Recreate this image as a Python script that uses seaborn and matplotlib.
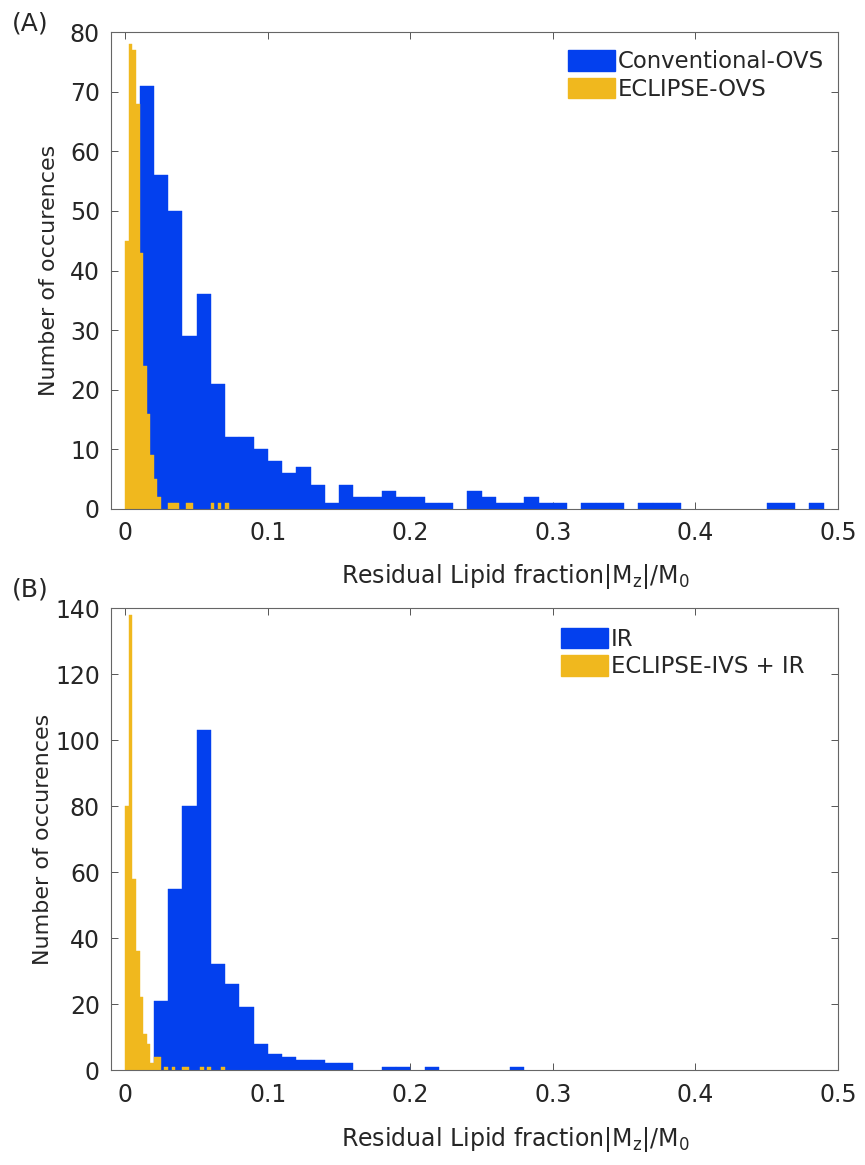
import numpy as np
import matplotlib
matplotlib.use('Agg')
import matplotlib.pyplot as plt
import seaborn as sns
from matplotlib.patches import Patch

# bin widths
wide_bin = 0.01
narrow_bin = 0.0025

# (A) counts per bin, starting at 0
conv_ovs = [0, 71, 56, 50, 29, 36, 21, 12, 12, 10,
            8, 6, 7, 4, 1, 4, 2, 2, 3, 2,
            2, 1, 1, 0, 3, 2, 1, 1, 2, 1,
            1, 0, 1, 1, 1, 0, 1, 1, 1, 0,
            0, 0, 0, 0, 0, 1, 1, 0, 1, 0]
eclipse_ovs = [45, 78, 77, 68, 43, 24, 16, 9, 5, 2,
               0, 0, 1, 1, 1, 0, 0, 1, 1, 0,
               0, 0, 0, 0, 1, 0, 1, 0, 1, 0]

# (B) counts per bin, starting at 0
ir = [0, 0, 21, 55, 80, 103, 32, 26, 19, 8,
      5, 4, 3, 3, 2, 2, 0, 0, 1, 1,
      0, 1, 0, 0, 0, 0, 0, 1, 0, 0]
eclipse_ivs_ir = [80, 138, 58, 36, 22, 11, 8, 2, 4, 4,
                  0, 1, 0, 1, 0, 0, 1, 1, 0, 0,
                  0, 1, 0, 1, 0, 0, 0, 1, 0, 0]

x_ticks = [0, 0.1, 0.2, 0.3, 0.4, 0.5]
x_ticklabels = ['0', '0.1', '0.2', '0.3', '0.4', '0.5']

BLUE = '#0340EE'
YELLOW = '#F0B81E'

sns.set_style('ticks')
plt.rcParams['font.family'] = ['DejaVu Sans']

fig = plt.figure(figsize=(8.65, 11.65), dpi=100)
ax1 = fig.add_axes([111 / 865, 1 - 509 / 1165, 727 / 865, 477 / 1165])
ax2 = fig.add_axes([111 / 865, 1 - 1070 / 1165, 727 / 865, 462 / 1165])


def draw_hist(ax, counts, width, color):
    edges = np.arange(len(counts) + 1) * width
    centers = edges[:-1] + width / 2
    w = np.asarray(counts, dtype=float)
    keep = w > 0
    # thin edge in the face colour hides the seams between bins
    sns.histplot(x=centers[keep], weights=w[keep],
                 bins=edges.tolist(), color=color, alpha=1,
                 edgecolor=color, linewidth=0.3, ax=ax)
    # empty bins should not leave a line on the baseline
    for p in ax.patches:
        if p.get_height() == 0:
            p.set_linewidth(0)


xlabel = 'Residual Lipid fraction|M$\\mathregular{_z}$|/M$\\mathregular{_0}$'

panels = [
    (ax1, conv_ovs, eclipse_ovs, 'Conventional-OVS', 'ECLIPSE-OVS', 80, 10, (0.6286, 0.962)),
    (ax2, ir, eclipse_ivs_ir, 'IR', 'ECLIPSE-IVS + IR', 140, 20, (0.619, 0.957)),
]

for ax, blue, yellow, lab_b, lab_y, ymax, ystep, anchor in panels:
    draw_hist(ax, blue, wide_bin, BLUE)
    draw_hist(ax, yellow, narrow_bin, YELLOW)

    ax.set_xlim(-0.01, 0.5)
    ax.set_ylim(0, ymax)
    ax.set_xticks(x_ticks)
    ax.set_xticklabels(x_ticklabels)
    ax.set_yticks(np.arange(0, ymax + 1, ystep))
    ax.tick_params(direction='in', top=True, right=True, length=5, width=0.7,
                   color='#555555', labelcolor='#262626', labelsize=17)
    ax.tick_params(axis='x', pad=9)
    ax.tick_params(axis='y', pad=8)
    for s in ax.spines.values():
        s.set_visible(True)
        s.set_color('#666666')
        s.set_linewidth(0.8)
        s.set_zorder(5)

    ax.set_xlabel(xlabel, fontsize=17, color='#262626')
    ax.set_ylabel('Number of occurences', fontsize=16, color='#262626')

    ax.legend(handles=[Patch(color=BLUE, label=lab_b), Patch(color=YELLOW, label=lab_y)],
              loc='upper left', frameon=False, fontsize=16.4,
              handlelength=2.06, handleheight=1.0, handletextpad=0.12,
              labelspacing=0.2, borderpad=0, borderaxespad=0,
              bbox_to_anchor=anchor)

ax1.xaxis.set_label_coords(0.556, -0.112)
ax2.xaxis.set_label_coords(0.556, -0.12)
ax1.yaxis.set_label_coords(-0.071, 0.5)
ax2.yaxis.set_label_coords(-0.080, 0.5)

fig.text(12 / 865, 1 - 23 / 1165, '(A)', fontsize=18, va='center', color='#262626')
fig.text(12 / 865, 1 - 590 / 1165, '(B)', fontsize=18, va='center', color='#262626')

fig.savefig('out.png', dpi=100, facecolor='white')
